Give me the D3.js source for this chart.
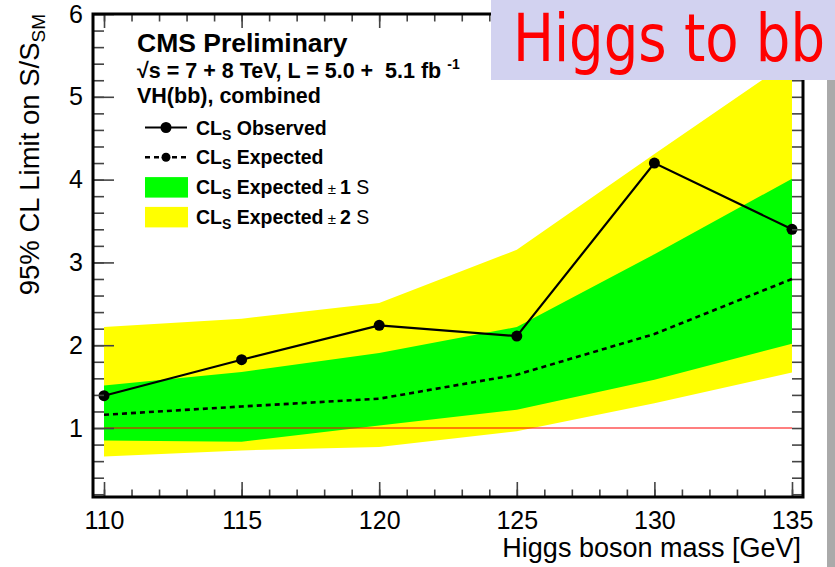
<!DOCTYPE html>
<html>
<head>
<meta charset="utf-8">
<script src="https://cdn.jsdelivr.net/npm/d3@7"></script>
<style>
  body { margin: 0; background: #fff; }
  svg text { font-family: "Liberation Sans", Arial, Helvetica, sans-serif; }
</style>
</head>
<body>
<svg id="chart" width="835" height="567"></svg>
<script>
// Higgs mass points (GeV)
const masses = [110, 115, 120, 125, 130, 135];
// 95% CL upper limits on sigma/sigma_SM
const observed = [1.39, 1.825, 2.24, 2.11, 4.20, 3.40];
const expected = [1.16, 1.26, 1.354, 1.644, 2.135, 2.80];
const oneSigmaUp = [1.515, 1.676, 1.906, 2.22, 3.10, 4.01];
const oneSigmaDown = [0.85, 0.835, 1.03, 1.22, 1.583, 2.018];
const twoSigmaUp = [2.22, 2.32, 2.51, 3.153, 4.31, 5.45];
const twoSigmaDown = [0.657, 0.73, 0.77, 0.96, 1.30, 1.67];
// axis ticks
const xTickValues = [110, 115, 120, 125, 130, 135];
const yTickValues = [1, 2, 3, 4, 5, 6];
const smLevel = 1;

const svg = d3.select("#chart");
const W = 835, H = 567;
const frame = { left: 93, right: 803, top: 14, bottom: 497 };

const x = d3.scaleLinear().domain([109.6, 135.4]).range([frame.left, frame.right]);
const y = d3.scaleLinear().domain([0.167, 6]).range([frame.bottom, frame.top]);

const rows = masses.map((m, i) => ({
  m, obs: observed[i], exp: expected[i],
  u1: oneSigmaUp[i], d1: oneSigmaDown[i], u2: twoSigmaUp[i], d2: twoSigmaDown[i]
}));

const plot = svg.append("g");

// +-2 sigma and +-1 sigma bands
const band = (lo, hi) => d3.area().x(d => x(d.m)).y0(d => y(d[lo])).y1(d => y(d[hi]));
plot.append("path").datum(rows).attr("d", band("d2", "u2")).attr("fill", "#ffff00");
plot.append("path").datum(rows).attr("d", band("d1", "u1")).attr("fill", "#00ff00");

// SM reference line
plot.append("line")
  .attr("x1", x(masses[0])).attr("x2", x(masses[masses.length - 1]))
  .attr("y1", y(smLevel)).attr("y2", y(smLevel))
  .attr("stroke", "#ff0000").attr("stroke-width", 1.2);

// expected limit
plot.append("path").datum(rows)
  .attr("d", d3.line().x(d => x(d.m)).y(d => y(d.exp)))
  .attr("fill", "none").attr("stroke", "#000").attr("stroke-width", 2.6)
  .attr("stroke-dasharray", "5,4");

// observed limit
plot.append("path").datum(rows)
  .attr("d", d3.line().x(d => x(d.m)).y(d => y(d.obs)))
  .attr("fill", "none").attr("stroke", "#000").attr("stroke-width", 2.2);
plot.selectAll("circle.obs").data(rows).join("circle")
  .attr("class", "obs")
  .attr("cx", d => x(d.m)).attr("cy", d => y(d.obs)).attr("r", 5.5)
  .attr("fill", "#000");

// axes: ticks point inward on all four sides
const tickColor = "#444";
const xMinor = d3.range(110, 136, 1);
const yMinor = d3.range(0.2, 6.01, 0.2);

function styleAxis(g) {
  g.select(".domain").remove();
  g.selectAll(".tick line").attr("stroke", tickColor).attr("stroke-width", 1.6);
  g.selectAll(".tick text").attr("fill", "#000").style("font-size", "25px")
    .style("font-family", "'Liberation Sans', Arial, sans-serif");
}

// bottom
svg.append("g").attr("transform", `translate(0,${frame.bottom})`)
  .call(d3.axisBottom(x).tickValues(xMinor).tickSize(-7.5).tickFormat(""))
  .call(styleAxis);
svg.append("g").attr("transform", `translate(0,${frame.bottom})`)
  .call(d3.axisBottom(x).tickValues(xTickValues).tickSizeInner(-15).tickSizeOuter(0).tickPadding(8).tickFormat(d3.format("d")))
  .call(styleAxis)
  .selectAll(".tick text").attr("dy", "0.95em");
// top
svg.append("g").attr("transform", `translate(0,${frame.top})`)
  .call(d3.axisTop(x).tickValues(xMinor).tickSize(-7.5).tickFormat(""))
  .call(styleAxis);
svg.append("g").attr("transform", `translate(0,${frame.top})`)
  .call(d3.axisTop(x).tickValues(xTickValues).tickSize(-14).tickFormat(""))
  .call(styleAxis);
// left
svg.append("g").attr("transform", `translate(${frame.left},0)`)
  .call(d3.axisLeft(y).tickValues(yMinor).tickSize(-11).tickFormat(""))
  .call(styleAxis);
svg.append("g").attr("transform", `translate(${frame.left},0)`)
  .call(d3.axisLeft(y).tickValues(yTickValues).tickSizeInner(-21).tickSizeOuter(0).tickPadding(10).tickFormat(d3.format("d")))
  .call(styleAxis);
// right
svg.append("g").attr("transform", `translate(${frame.right},0)`)
  .call(d3.axisRight(y).tickValues(yMinor).tickSize(-11).tickFormat(""))
  .call(styleAxis);

// frame
svg.append("rect")
  .attr("x", frame.left).attr("y", frame.top)
  .attr("width", frame.right - frame.left).attr("height", frame.bottom - frame.top)
  .attr("fill", "none").attr("stroke", "#000").attr("stroke-width", 3);

// axis titles
svg.append("text")
  .attr("x", frame.right - 2).attr("y", 557)
  .attr("text-anchor", "end").style("font-size", "27px")
  .text("Higgs boson mass [GeV]");

const yTitle = svg.append("text")
  .attr("transform", `translate(39,${frame.top}) rotate(-90)`)
  .attr("text-anchor", "end").style("font-size", "27.5px");
yTitle.append("tspan").text("95% CL Limit on ");
yTitle.append("tspan").style("font-weight", "300").text("S/S");
yTitle.append("tspan").attr("dy", 6).style("font-size", "19px").text("SM");

// header text
const hdr = svg.append("g").style("font-weight", "bold");
hdr.append("text").attr("x", 137).attr("y", 52).style("font-size", "26.5px").text("CMS Preliminary");
const energy = hdr.append("text").attr("x", 137).attr("y", 78).style("font-size", "21.5px");
energy.append("tspan").text("\u221As = 7 + 8 TeV, L = 5.0 +\u00a0 5.1 fb");
energy.append("tspan").attr("dy", -9).attr("dx", 6).style("font-size", "14px").text("-1");
hdr.append("text").attr("x", 137).attr("y", 103).style("font-size", "21.5px").text("VH(bb), combined");

// legend
const legendRows = [
  { kind: "obs", label: "Observed" },
  { kind: "exp", label: "Expected" },
  { kind: "b1", label: "Expected", n: "1" },
  { kind: "b2", label: "Expected", n: "2" }
];
const lg = svg.append("g");
legendRows.forEach((r, i) => {
  const cy = 127.5 + i * 29.8;
  if (r.kind === "obs" || r.kind === "exp") {
    lg.append("line").attr("x1", 145).attr("x2", 187).attr("y1", cy).attr("y2", cy)
      .attr("stroke", "#000").attr("stroke-width", r.kind === "obs" ? 2.2 : 2.6)
      .attr("stroke-dasharray", r.kind === "obs" ? null : "5,4");
    lg.append("circle").attr("cx", 166).attr("cy", cy).attr("r", r.kind === "obs" ? 5.5 : 4.5).attr("fill", "#000");
  } else {
    lg.append("rect").attr("x", 145).attr("y", cy - 10).attr("width", 43).attr("height", 20.5)
      .attr("fill", r.kind === "b1" ? "#00ff00" : "#ffff00");
  }
  const t = lg.append("text").attr("x", 196).attr("y", cy + 7).style("font-weight", "bold").style("font-size", "19.5px");
  t.append("tspan").text("CL");
  t.append("tspan").attr("dy", 5).style("font-size", "14px").text("S");
  t.append("tspan").attr("dy", -5).text(" " + r.label);
  if (r.n) {
    t.append("tspan").style("font-weight", "normal").style("font-size", "15px").text(" \u00b1 ");
    t.append("tspan").text(r.n);
    t.append("tspan").style("font-weight", "normal").text(" S");
  }
});

// title banner
svg.append("rect").attr("x", 491).attr("y", 0).attr("width", W - 491).attr("height", 80).attr("fill", "#d2d2f0");
svg.append("text").attr("x", 513).attr("y", 61)
  .attr("textLength", 312).attr("lengthAdjust", "spacingAndGlyphs")
  .style("font-family", "'DejaVu Sans Condensed', 'DejaVu Sans', Verdana, sans-serif")
  .style("font-size", "65px").attr("fill", "#ff0000").text("Higgs to bb");

// grey strip at the right edge
svg.append("rect").attr("x", 827).attr("y", 80).attr("width", 8).attr("height", H - 80).attr("fill", "#aaaaaa");
</script>
</body>
</html>
